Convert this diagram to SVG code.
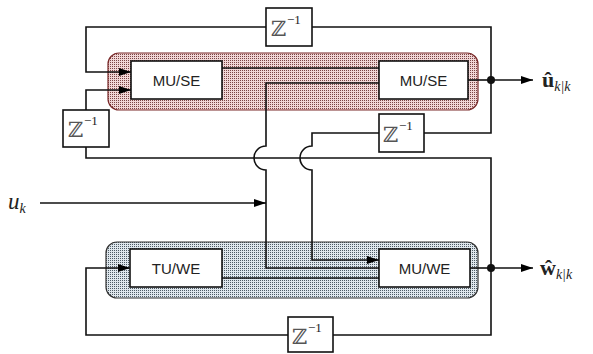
<svg xmlns="http://www.w3.org/2000/svg" width="593" height="354" viewBox="0 0 593 354">
<defs>
<pattern id="dotR" width="2" height="2" patternUnits="userSpaceOnUse"><rect width="2" height="2" fill="#f1d6d6"/><rect width="1" height="1" fill="#7a4444"/></pattern>
<pattern id="dotB" width="2" height="2" patternUnits="userSpaceOnUse"><rect width="2" height="2" fill="#dfe7ed"/><rect width="1" height="1" fill="#4d5a64"/></pattern>
<marker id="ar" viewBox="0 0 12 8" refX="12" refY="4" markerWidth="12" markerHeight="8" markerUnits="userSpaceOnUse" orient="auto"><path d="M0,0 L12,4 L0,8 Z" fill="#000"/></marker>
<style>
.ln{fill:none;stroke:#111;stroke-width:1.6}
.bx{fill:#fff;stroke:#111;stroke-width:1.6}
.lbl{font-family:"Liberation Sans",Arial,sans-serif;font-size:15px;fill:#222;text-anchor:middle}
.z{font-family:"DejaVu Serif","DejaVu Sans",serif;font-size:21px;fill:#555}
.zs{font-family:"Liberation Serif",serif;font-size:13px;fill:#222}
.m{font-family:"Liberation Serif","DejaVu Serif",serif;fill:#222}
</style>
</defs>
<g id="regionTop"><rect x="108" y="53" width="370" height="57" rx="11" fill="url(#dotR)" stroke="#7a2a2a" stroke-width="1.2"/></g>
<g id="regionBottom"><rect x="106" y="242" width="372" height="56" rx="11" fill="url(#dotB)" stroke="#333" stroke-width="1.2"/></g>
<g id="connectors">
<path class="ln" d="M312,27 H491 V133 H424"/>
<path class="ln" d="M266,27 H86 V72 H131" marker-end="url(#ar)"/>
<path class="ln" d="M86,110 V90 H131" marker-end="url(#ar)"/>
<path class="ln" d="M86,147 V158 H491 V335 H333"/>
<path class="ln" d="M288,335 H86 V268 H130" marker-end="url(#ar)"/>
<path class="ln" d="M379,133 H312 V146 A12,12 0 0 0 312,170 V260 H379" marker-end="url(#ar)"/>
<path class="ln" d="M379,83 H266 V146 A12,12 0 0 0 266,170 V268 H379"/>
<path class="ln" d="M40,203 H266" marker-end="url(#ar)"/>
<path class="ln" d="M222,68 H379" stroke="#4a1010"/>
<path class="ln" d="M222,278 H379"/>
<path class="ln" d="M468,80 H491"/>
<path class="ln" d="M491,80 H533" marker-end="url(#ar)"/>
<path class="ln" d="M470,268 H491"/>
<path class="ln" d="M491,268 H533" marker-end="url(#ar)"/>
<circle cx="491" cy="80" r="4" fill="#111"/>
<circle cx="491" cy="268" r="4" fill="#111"/>
</g>
<g id="muse1"><rect class="bx" x="131" y="61" width="91" height="38"/><text class="lbl" x="176.5" y="86">MU/SE</text></g>
<g id="muse2"><rect class="bx" x="379" y="61" width="89" height="38"/><text class="lbl" x="423.5" y="86">MU/SE</text></g>
<g id="tuwe"><rect class="bx" x="130" y="249" width="92" height="38"/><text class="lbl" x="176" y="274">TU/WE</text></g>
<g id="muwe"><rect class="bx" x="379" y="249" width="91" height="38"/><text class="lbl" x="424.5" y="274">MU/WE</text></g>
<g id="zTop"><rect class="bx" x="266" y="8" width="46" height="38"/><text class="z" x="271" y="36">ℤ</text><text class="zs" x="287" y="24">−1</text></g>
<g id="zLeft"><rect class="bx" x="63" y="110" width="46" height="37"/><text class="z" x="68" y="137">ℤ</text><text class="zs" x="84" y="125">−1</text></g>
<g id="zMid"><rect class="bx" x="379" y="114" width="45" height="38"/><text class="z" x="383" y="142">ℤ</text><text class="zs" x="399" y="130">−1</text></g>
<g id="zBot"><rect class="bx" x="288" y="317" width="45" height="35"/><text class="z" x="292" y="344">ℤ</text><text class="zs" x="308" y="332">−1</text></g>
<g id="labels">
<text class="m" x="8" y="209" font-size="23" font-style="italic">u<tspan font-size="14" dy="4">k</tspan></text>
<text class="m" x="542" y="87" font-size="22" font-weight="bold">û<tspan font-size="14" font-style="italic" font-weight="normal" dy="4">k|k</tspan></text>
<text class="m" x="540" y="275" font-size="22" font-weight="bold">ŵ<tspan font-size="14" font-style="italic" font-weight="normal" dy="4">k|k</tspan></text>
</g>
</svg>
